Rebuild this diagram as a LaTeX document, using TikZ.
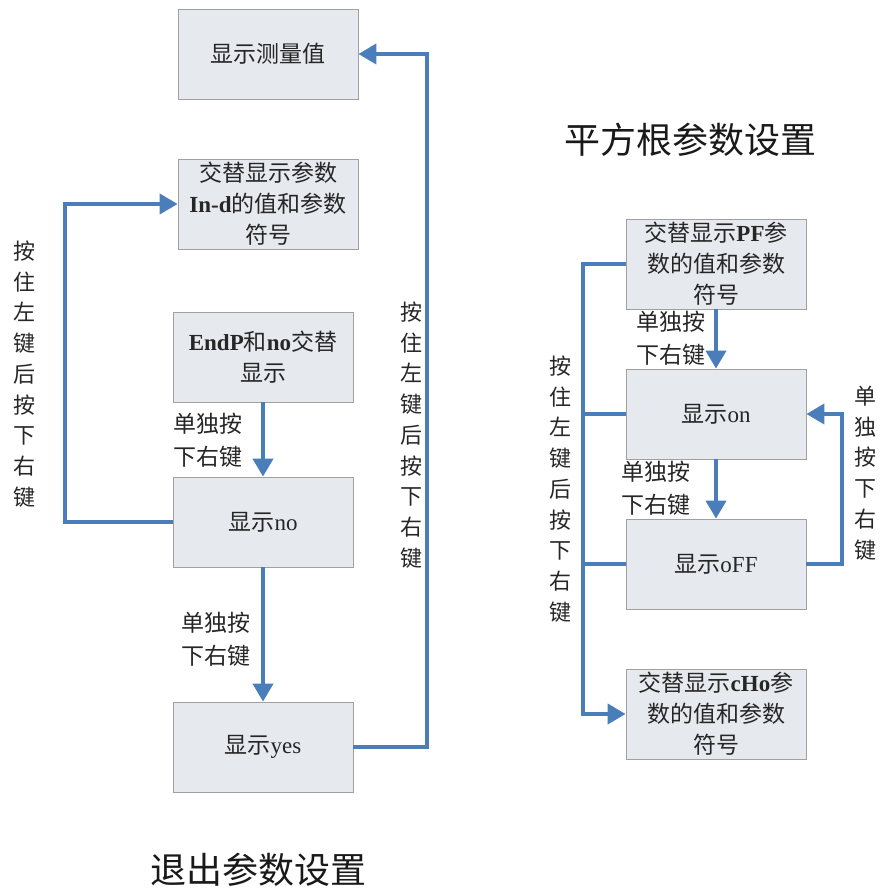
\documentclass[tikz,border=0pt]{standalone}
\usepackage{fontspec}
\setmainfont{Noto Sans CJK SC}
\newfontfamily\lat{Liberation Serif}
\usetikzlibrary{arrows.meta}
\definecolor{boxfill}{RGB}{230,233,238}
\definecolor{boxline}{RGB}{160,160,160}
\definecolor{flowblue}{RGB}{74,126,187}
\tikzset{
  box/.style={draw=boxline, fill=boxfill, line width=0.8pt, minimum width=180pt,
    minimum height=90pt, inner sep=0pt, align=center, text=black!85,
    font=\fontsize{23}{31}\selectfont},
  flow/.style={line width=4pt, draw=flowblue, -{Triangle[width=20pt,length=18pt]}},
  bus/.style={line width=4pt, draw=flowblue},
  lbl/.style={align=center, inner sep=0pt, text=black!85, font=\fontsize{23}{33}\selectfont},
  vlbl/.style={align=center, inner sep=0pt, text=black!85, font=\fontsize{22}{30.7}\selectfont},
  ttl/.style={inner sep=0pt, text=black!90, font=\fontsize{36}{40}\selectfont}
}
\begin{document}
\begin{tikzpicture}[x=1pt,y=-1pt]
  \useasboundingbox (0,0) rectangle (881,893);
  % exit branch
  \node[box] (meas) at (268,54) {显示测量值};
  \node[box] (ind) at (268,204) {交替显示参数\\{\lat\bfseries In-d}的值和参数\\符号};
  \node[box] (endp) at (263,357) {{\lat\bfseries EndP}和{\lat\bfseries no}交替\\显示};
  \node[box] (no) at (263,522) {显示{\lat no}};
  \node[box] (yes) at (263,747) {显示{\lat yes}};
  \draw[flow] (endp) -- (no);
  \draw[flow] (no) -- (yes);
  \draw[flow] (no.west) -- ++(-108,0) |- (ind.west);
  \draw[flow] (yes.east) -- ++(74,0) |- (meas.east);
  \node[lbl] (k1) at (208,440) {单独按\\下右键};
  \node[lbl] (k2) at (216,639) {单独按\\下右键};
  \node[vlbl] (v1) at (24,374) {按\\住\\左\\键\\后\\按\\下\\右\\键};
  \node[vlbl] (v2) at (411,435) {按\\住\\左\\键\\后\\按\\下\\右\\键};
  \node[ttl] (t1) at (258,870) {退出参数设置};
  % square root branch
  \node[ttl] (t2) at (690,140) {平方根参数设置};
  \node[box] (pf) at (716,264) {交替显示{\lat\bfseries PF}参\\数的值和参数\\符号};
  \node[box] (on) at (716,414) {显示{\lat on}};
  \node[box] (off) at (716,564) {显示{\lat oFF}};
  \node[box] (cho) at (716,714) {交替显示{\lat\bfseries cHo}参\\数的值和参数\\符号};
  \draw[flow] (pf) -- (on);
  \draw[flow] (on) -- (off);
  \draw[flow] (off.east) -- ++(36,0) |- (on.east);
  \draw[flow] (pf.west) -- ++(-43,0) coordinate (lbus) |- (cho.west);
  \draw[bus] (on.west) -- (on.west -| lbus);
  \draw[bus] (off.west) -- (off.west -| lbus);
  \node[lbl] (k3) at (671,338) {单独按\\下右键};
  \node[lbl] (k4) at (656,488) {单独按\\下右键};
  \node[vlbl] (v3) at (560,489) {按\\住\\左\\键\\后\\按\\下\\右\\键};
  \node[vlbl] (v4) at (865,473) {单\\独\\按\\下\\右\\键};
\end{tikzpicture}
\end{document}
